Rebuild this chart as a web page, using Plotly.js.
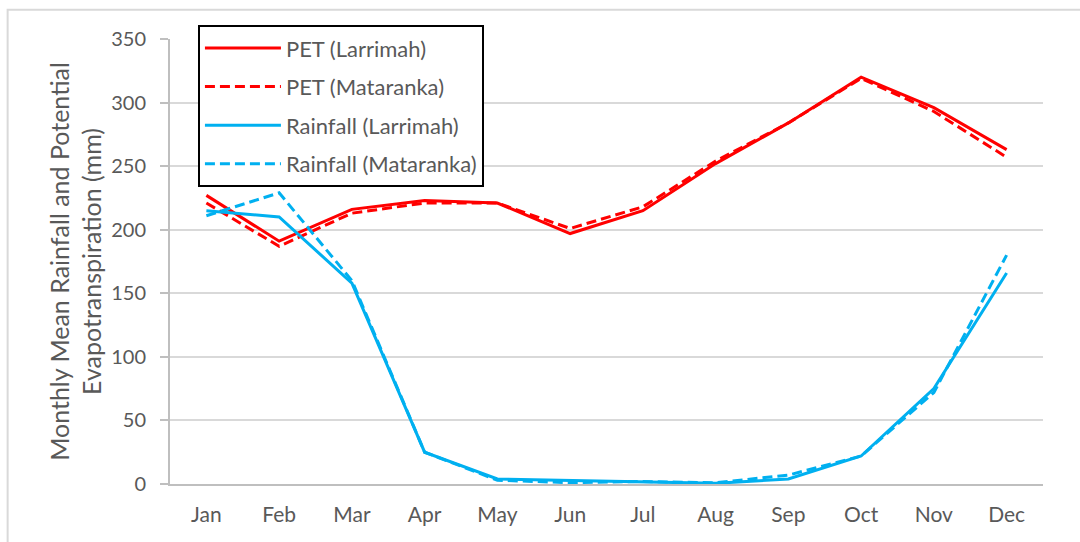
<!DOCTYPE html>
<html><head><meta charset="utf-8">
<script src="https://cdn.plot.ly/plotly-3.0.1.min.js"></script>
<style>html,body{margin:0;padding:0;background:#fff;}#chart{width:1080px;height:542px;}</style>
</head><body><div id="chart"></div>
<script>
const months = ["Jan","Feb","Mar","Apr","May","Jun","Jul","Aug","Sep","Oct","Nov","Dec"];
const petLarrimah = [227,191,216,223,221,197,215,252,284,320,296,263];
const petMataranka = [221,187,213,221,221,201,218,254,284,319,293,257];
const rainLarrimah = [215,210,158,25,4,3,2,0.5,4,22,75,166];
const rainMataranka = [211,229,160,25,3,1,2,1,7,22,72,180];
const yTicks = [0,50,100,150,200,250,300,350];

const red = "#ff0000", blue = "#00b0f0";
function tr(name, y, color, dash, g){
  return {x: months, y: y, name: name, type: "scatter", mode: "lines",
    legendgroup: g, line: {color: color, width: 3, dash: dash}};
}
const data = [
  tr("PET (Larrimah)", petLarrimah, red, "solid", "a"),
  tr("PET (Mataranka)", petMataranka, red, "10px,5px", "b"),
  tr("Rainfall (Larrimah)", rainLarrimah, blue, "solid", "c"),
  tr("Rainfall (Mataranka)", rainMataranka, blue, "10px,5px", "d")
];
const layout = {
  width: 1080, height: 542,
  margin: {l: 170, r: 37, t: 39, b: 58},
  paper_bgcolor: "#fff", plot_bgcolor: "#fff",
  font: {family: "Lato, 'Open Sans', sans-serif", color: "#595959", size: 20},
  xaxis: {type: "category", showgrid: false, showline: true, linecolor: "#bfbfbf", linewidth: 2,
    ticks: "", tickfont: {size: 21, color: "#595959"}, ticklabelstandoff: 11,
    range: [-0.5, 11.5], zeroline: false, fixedrange: true},
  yaxis: {range: [0, 350], tickvals: yTicks, showgrid: true, gridcolor: "#d9d9d9", gridwidth: 2,
    showline: true, linecolor: "#bfbfbf", linewidth: 2, ticks: "outside", ticklen: 8, tickcolor: "#bfbfbf", tickwidth: 2,
    ticklabelstandoff: 10, zeroline: false, tickfont: {size: 20, color: "#595959"},
    title: {text: "Monthly Mean Rainfall and Potential<br>Evapotranspiration (mm)", font: {size: 25, color: "#595959"}, standoff: 2}},
  showlegend: true,
  legend: {x: 0.032, y: 1.031, xanchor: "left", yanchor: "top", bgcolor: "#fff",
    bordercolor: "#000", borderwidth: 2, font: {size: 22, color: "#595959"},
    itemwidth: 76, tracegroupgap: 7, traceorder: "grouped"},
  shapes: [{type: "rect", xref: "paper", yref: "paper", x0: -0.186, x1: 1.2, y0: -0.3, y1: 1.066,
    line: {color: "#d9d9d9", width: 2}, fillcolor: "rgba(0,0,0,0)", layer: "below"}]
};
Plotly.newPlot("chart", data, layout, {displayModeBar: false, staticPlot: true});
</script></body></html>
